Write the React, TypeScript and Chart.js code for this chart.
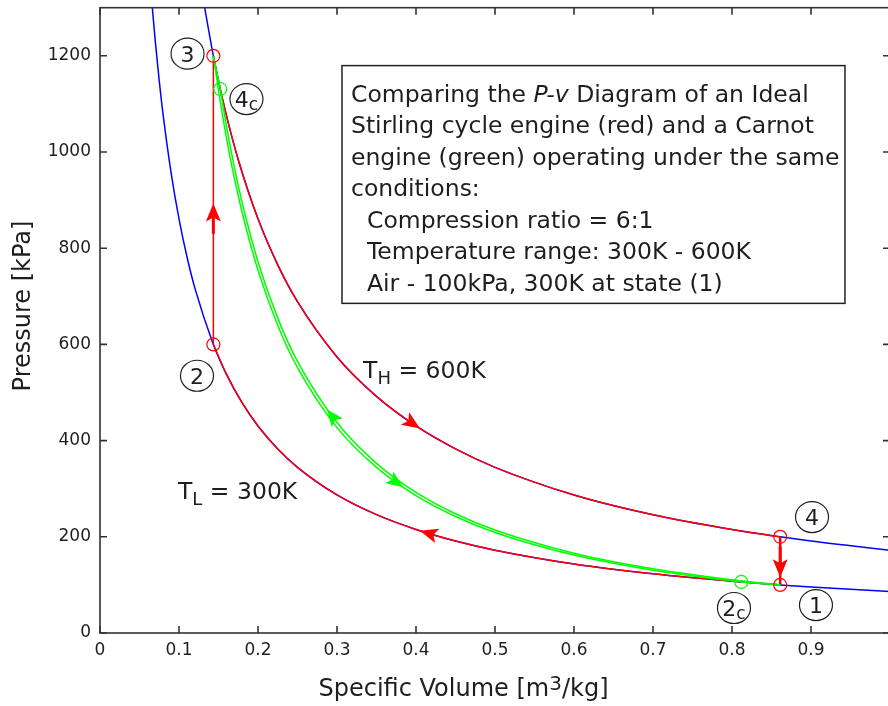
import React, { useEffect, useRef } from 'react';
import { Chart, registerables } from 'chart.js';
Chart.register(...registerables);

// ---- axis ticks ----
const xTicks = [0, 0.1, 0.2, 0.3, 0.4, 0.5, 0.6, 0.7, 0.8, 0.9];
const xTickLabels = ['0', '0.1', '0.2', '0.3', '0.4', '0.5', '0.6', '0.7', '0.8', '0.9'];
const yTicks = [0, 200, 400, 600, 800, 1000, 1200];
const yTickLabels = ['0', '200', '400', '600', '800', '1000', '1200'];

// ---- isotherm T_L = 300K (blue) ----
const isoLowV = [0.066, 0.07, 0.075, 0.08, 0.09, 0.1, 0.11, 0.12, 0.1435, 0.16, 0.18, 0.2, 0.225, 0.25, 0.3, 0.35, 0.4, 0.45, 0.5, 0.6, 0.7, 0.8, 0.861, 0.9, 1.0];
const isoLowP = [1304.5, 1230, 1148, 1076, 956.7, 861, 782.7, 717.5, 600, 538.1, 478.3, 430.5, 382.7, 344.4, 287, 246, 215.3, 191.3, 172.2, 143.5, 123, 107.6, 100, 95.7, 86.1];
// ---- isotherm T_H = 600K (blue) ----
const isoHighV = [0.132, 0.1435, 0.15, 0.16, 0.175, 0.2, 0.225, 0.25, 0.3, 0.35, 0.4, 0.45, 0.5, 0.6, 0.7, 0.8, 0.861, 0.9, 1.0];
const isoHighP = [1304.5, 1200, 1148, 1076, 984, 861, 765.3, 688.8, 574, 492, 430.5, 382.7, 344.4, 287, 246, 215.3, 200, 191.3, 172.2];

// ---- Stirling cycle (red) ----
const stirLowV = [0.1435, 0.16, 0.18, 0.2, 0.225, 0.25, 0.3, 0.35, 0.4, 0.45, 0.5, 0.6, 0.7, 0.8, 0.861];
const stirLowP = [600, 538.1, 478.3, 430.5, 382.7, 344.4, 287, 246, 215.3, 191.3, 172.2, 143.5, 123, 107.6, 100];
const stirHighV = [0.1435, 0.15, 0.16, 0.175, 0.2, 0.225, 0.25, 0.3, 0.35, 0.4, 0.45, 0.5, 0.6, 0.7, 0.8, 0.861];
const stirHighP = [1200, 1148, 1076, 984, 861, 765.3, 688.8, 574, 492, 430.5, 382.7, 344.4, 287, 246, 215.3, 200];
const stirHeatV = [0.1435, 0.1435];
const stirHeatP = [600, 1200];
const stirCoolV = [0.861, 0.861];
const stirCoolP = [200, 100];
const stateV = [0.861, 0.1435, 0.1435, 0.861];
const stateP = [100, 600, 1200, 200];

// ---- Carnot cycle (green) ----
const carnotCompV = [0.1522, 0.16, 0.17, 0.18, 0.2, 0.225, 0.25, 0.3, 0.35, 0.4, 0.45, 0.5, 0.6, 0.7, 0.8, 0.861];
const carnotCompP = [1131, 1055, 969, 894.5, 772, 654.6, 564.8, 437.6, 352.7, 292.5, 248, 214, 165.8, 133.6, 110.8, 100];
const carnotExpV = [0.1435, 0.15, 0.16, 0.17, 0.18, 0.2, 0.225, 0.25, 0.3, 0.35, 0.4, 0.45, 0.5, 0.6, 0.7, 0.75, 0.8118];
const carnotExpP = [1200, 1128, 1030, 946.6, 873.8, 754, 639.4, 551.6, 427, 344.4, 285.7, 242.3, 209, 162, 130.5, 118.5, 106.1];
const carnotHotV = [0.1435, 0.1522];
const carnotHotP = [1200, 1131];
const carnotColdV = [0.8118, 0.861];
const carnotColdP = [106.1, 100];
const carnotStateV = [0.8118, 0.1522];
const carnotStateP = [106.1, 1131];

// ---- direction arrows (tip and a point behind it on the curve) ----
const stirArrowTipV = [0.405, 0.405, 0.1435, 0.861];
const stirArrowTipP = [212.6, 425.2, 893, 116];
const stirArrowTailV = [0.43, 0.385, 0.1435, 0.861];
const stirArrowTailP = [200.2, 447.3, 800, 150];
const carnotArrowTipV = [0.2873, 0.3835];
const carnotArrowTipP = [465, 303];
const carnotArrowTailV = [0.3, 0.36];
const carnotArrowTailP = [437.6, 331];

// ---- state labels ----
const stateLabelMain = ['1', '2', '3', '4', '2', '4'];
const stateLabelSub = ['', '', '', '', 'c', 'c'];
const stateLabelV = [0.9063, 0.1228, 0.1108, 0.9013, 0.8025, 0.1854];
const stateLabelP = [58, 534.8, 1204.5, 241, 52, 1110];

const boxLines = [
  'Stirling cycle engine (red) and a Carnot',
  'engine (green) operating under the same',
  'conditions:',
  'Compression ratio = 6:1',
  'Temperature range: 300K - 600K',
  'Air - 100kPa, 300K at state (1)',
];

const zip = (xs: number[], ys: number[]) => xs.map((x, i) => ({ x, y: ys[i] }));

const FONT = '"DejaVu Sans", sans-serif';
const TXT = '#1e1e1e';
const BOXFONT = 23.5;

function lineDs(v: number[], p: number[], color: string, order: number, width = 1.5) {
  return {
    data: zip(v, p),
    showLine: true,
    borderColor: color,
    backgroundColor: color,
    borderWidth: width,
    pointRadius: 0,
    pointHoverRadius: 0,
    cubicInterpolationMode: 'monotone' as const,
    fill: false,
    order,
  };
}

function markerDs(v: number[], p: number[], color: string, order: number) {
  return {
    data: zip(v, p),
    showLine: false,
    pointStyle: 'circle' as const,
    pointRadius: 6.5,
    pointBorderWidth: 1.2,
    pointBorderColor: color,
    pointBackgroundColor: 'rgba(0,0,0,0)',
    order,
  };
}

function drawArrow(ctx: CanvasRenderingContext2D, tx: number, ty: number, bx: number, by: number, color: string, len: number, half: number, shaft: number) {
  const ang = Math.atan2(ty - by, tx - bx);
  ctx.save();
  ctx.translate(tx, ty);
  ctx.rotate(ang);
  ctx.fillStyle = color;
  ctx.strokeStyle = color;
  if (shaft > 0) {
    ctx.lineWidth = 3;
    ctx.beginPath();
    ctx.moveTo(-len * 0.8, 0);
    ctx.lineTo(-len * 0.8 - shaft, 0);
    ctx.stroke();
  }
  ctx.beginPath();
  ctx.moveTo(0, 0);
  ctx.lineTo(-len, -half);
  ctx.lineTo(-len * 0.78, 0);
  ctx.lineTo(-len, half);
  ctx.closePath();
  ctx.fill();
  ctx.restore();
}

const noPad = (s: any) => {
  s.paddingTop = 0;
  s.paddingBottom = 0;
  s.paddingLeft = 0;
  s.paddingRight = 0;
};

const decorPlugin = {
  id: 'pvDecor',
  afterDatasetsDraw(chart: any) {
    const ctx: CanvasRenderingContext2D = chart.ctx;
    const xs = chart.scales.x;
    const ys = chart.scales.y;
    stirArrowTipV.forEach((v, i) => {
      drawArrow(ctx, xs.getPixelForValue(v), ys.getPixelForValue(stirArrowTipP[i]),
        xs.getPixelForValue(stirArrowTailV[i]), ys.getPixelForValue(stirArrowTailP[i]), '#ff0000', 18, 7.5, i >= 2 ? 16 : 0);
    });
    carnotArrowTipV.forEach((v, i) => {
      drawArrow(ctx, xs.getPixelForValue(v), ys.getPixelForValue(carnotArrowTipP[i]),
        xs.getPixelForValue(carnotArrowTailV[i]), ys.getPixelForValue(carnotArrowTailP[i]), '#00ff00', 17, 7, 0);
    });
  },
  afterDraw(chart: any) {
    const ctx: CanvasRenderingContext2D = chart.ctx;
    const xs = chart.scales.x;
    const ys = chart.scales.y;
    const { left, right, top, bottom } = chart.chartArea;
    ctx.save();
    // frame
    ctx.strokeStyle = '#333';
    ctx.lineWidth = 1.6;
    ctx.strokeRect(left, top, right - left, bottom - top);
    ctx.beginPath();
    const tl = 7;
    xTicks.forEach((v) => {
      const px = xs.getPixelForValue(v);
      ctx.moveTo(px, bottom); ctx.lineTo(px, bottom - tl);
      ctx.moveTo(px, top); ctx.lineTo(px, top + tl);
    });
    yTicks.forEach((v) => {
      const py = ys.getPixelForValue(v);
      ctx.moveTo(left, py); ctx.lineTo(left + tl, py);
      ctx.moveTo(right, py); ctx.lineTo(right - tl, py);
    });
    ctx.stroke();

    // circled state labels
    ctx.fillStyle = TXT;
    ctx.strokeStyle = TXT;
    ctx.lineWidth = 1.2;
    stateLabelMain.forEach((m, i) => {
      const cx = xs.getPixelForValue(stateLabelV[i]);
      const cy = ys.getPixelForValue(stateLabelP[i]);
      ctx.beginPath();
      ctx.ellipse(cx, cy, 16.5, 15.5, 0, 0, Math.PI * 2);
      ctx.stroke();
      ctx.textBaseline = 'alphabetic';
      ctx.textAlign = 'left';
      ctx.font = `22px ${FONT}`;
      const wm = ctx.measureText(m).width;
      const sub = stateLabelSub[i];
      if (sub) {
        ctx.font = `17px ${FONT}`;
        const ws = ctx.measureText(sub).width;
        const x0 = cx - (wm + ws) / 2;
        ctx.font = `22px ${FONT}`;
        ctx.fillText(m, x0, cy + 8);
        ctx.font = `17px ${FONT}`;
        ctx.fillText(sub, x0 + wm, cy + 11);
      } else {
        ctx.fillText(m, cx - wm / 2, cy + 8);
      }
    });

    // temperature labels
    const drawT = (v: number, p: number, sub: string, rest: string) => {
      let x = xs.getPixelForValue(v);
      const y = ys.getPixelForValue(p);
      ctx.textAlign = 'left';
      ctx.textBaseline = 'alphabetic';
      ctx.font = `23.5px ${FONT}`;
      ctx.fillText('T', x, y);
      x += ctx.measureText('T').width;
      ctx.font = `18px ${FONT}`;
      ctx.fillText(sub, x, y + 6);
      x += ctx.measureText(sub).width;
      ctx.font = `23.5px ${FONT}`;
      ctx.fillText(rest, x, y);
    };
    drawT(0.333, 529.5, 'H', ' = 600K');
    drawT(0.0987, 278, 'L', ' = 300K');

    // text box
    const bx0 = xs.getPixelForValue(0.3063);
    const by0 = ys.getPixelForValue(1179.6);
    const bx1 = xs.getPixelForValue(0.943);
    const by1 = ys.getPixelForValue(685.3);
    ctx.fillStyle = '#fff';
    ctx.fillRect(bx0, by0, bx1 - bx0, by1 - by0);
    ctx.strokeStyle = '#222';
    ctx.lineWidth = 1.5;
    ctx.strokeRect(bx0, by0, bx1 - bx0, by1 - by0);
    ctx.fillStyle = TXT;
    ctx.textAlign = 'left';
    ctx.textBaseline = 'alphabetic';
    const lx = bx0 + 9;
    const base0 = by0 + 36;
    const step = 31.5;
    ctx.font = `${BOXFONT}px ${FONT}`;
    let x = lx;
    ctx.fillText('Comparing the ', x, base0);
    x += ctx.measureText('Comparing the ').width;
    ctx.font = `italic ${BOXFONT}px ${FONT}`;
    ctx.fillText('P-v', x, base0);
    x += ctx.measureText('P-v').width;
    ctx.font = `${BOXFONT}px ${FONT}`;
    ctx.fillText(' Diagram of an Ideal', x, base0);
    boxLines.forEach((s, i) => {
      ctx.fillText(s, i >= 3 ? lx + 16 : lx, base0 + step * (i + 1));
    });

    // axis titles
    ctx.font = `24px ${FONT}`;
    ctx.save();
    ctx.translate(23.5, 306);
    ctx.rotate(-Math.PI / 2);
    ctx.textAlign = 'center';
    ctx.textBaseline = 'middle';
    ctx.fillText('Pressure [kPa]', 0, 0);
    ctx.restore();

    const a = 'Specific Volume [m';
    const c = '/kg]';
    ctx.font = `24px ${FONT}`;
    const wa = ctx.measureText(a).width;
    const wc = ctx.measureText(c).width;
    ctx.font = `20px ${FONT}`;
    const wb = ctx.measureText('3').width;
    const total = wa + wb + wc;
    let tx = 463.5 - total / 2;
    const ty = 696;
    ctx.textAlign = 'left';
    ctx.textBaseline = 'alphabetic';
    ctx.font = `24px ${FONT}`;
    ctx.fillText(a, tx, ty);
    tx += wa;
    ctx.font = `20px ${FONT}`;
    ctx.fillText('3', tx, ty - 6);
    tx += wb;
    ctx.font = `24px ${FONT}`;
    ctx.fillText(c, tx, ty);
    ctx.restore();
  },
};

export default function App() {
  const ref = useRef<HTMLCanvasElement>(null);
  useEffect(() => {
    if (!ref.current) return;
    Chart.defaults.font.family = FONT;
    const chart = new Chart(ref.current, {
      type: 'scatter',
      data: {
        datasets: [
          lineDs(isoLowV, isoLowP, '#0000ff', 10),
          lineDs(isoHighV, isoHighP, '#0000ff', 10),
          lineDs(stirLowV, stirLowP, '#ff0000', 8),
          lineDs(stirHighV, stirHighP, '#ff0000', 8),
          lineDs(stirHeatV, stirHeatP, '#ff0000', 8),
          lineDs(stirCoolV, stirCoolP, '#ff0000', 8, 2.5),
          lineDs(carnotCompV, carnotCompP, '#00ff00', 6),
          lineDs(carnotExpV, carnotExpP, '#00ff00', 6),
          lineDs(carnotHotV, carnotHotP, '#00ff00', 6),
          lineDs(carnotColdV, carnotColdP, '#00ff00', 6),
          markerDs(stateV, stateP, '#ff0000', 2),
          markerDs(carnotStateV, carnotStateP, '#00ff00', 1),
        ] as any,
      },
      options: {
        responsive: false,
        animation: false,
        devicePixelRatio: 1,
        layout: { padding: { left: 0, top: 7, right: 10, bottom: 0 } },
        plugins: { legend: { display: false }, tooltip: { enabled: false } },
        events: [],
        scales: {
          x: {
            type: 'linear',
            position: 'bottom',
            min: 0,
            max: 1,
            grid: { display: false, drawTicks: false },
            border: { display: false },
            ticks: {
              padding: 7,
              autoSkip: false,
              maxRotation: 0,
              color: TXT,
              font: { size: 17, family: FONT },
              callback: (_v: any, i: number) => xTickLabels[i],
            },
            afterBuildTicks: (s: any) => { s.ticks = xTicks.map((value) => ({ value })); },
            afterFit: (s: any) => { s.height = 73; noPad(s); },
          },
          y: {
            type: 'linear',
            position: 'left',
            min: 0,
            max: 1300,
            grid: { display: false, drawTicks: false },
            border: { display: false },
            ticks: {
              padding: 9,
              autoSkip: false,
              color: TXT,
              font: { size: 17, family: FONT },
              callback: (_v: any, i: number) => yTickLabels[i],
            },
            afterBuildTicks: (s: any) => { s.ticks = yTicks.map((value) => ({ value })); },
            afterFit: (s: any) => { s.width = 100; noPad(s); },
          },
        },
      } as any,
      plugins: [decorPlugin],
    });
    return () => chart.destroy();
  }, []);
  return (
    <div style={{ position: 'fixed', left: 0, top: 0, width: 888, height: 706, overflow: 'hidden', background: '#fff' }}>
      <canvas ref={ref} width={900} height={706} style={{ display: 'block', width: 900, height: 706 }} />
    </div>
  );
}
